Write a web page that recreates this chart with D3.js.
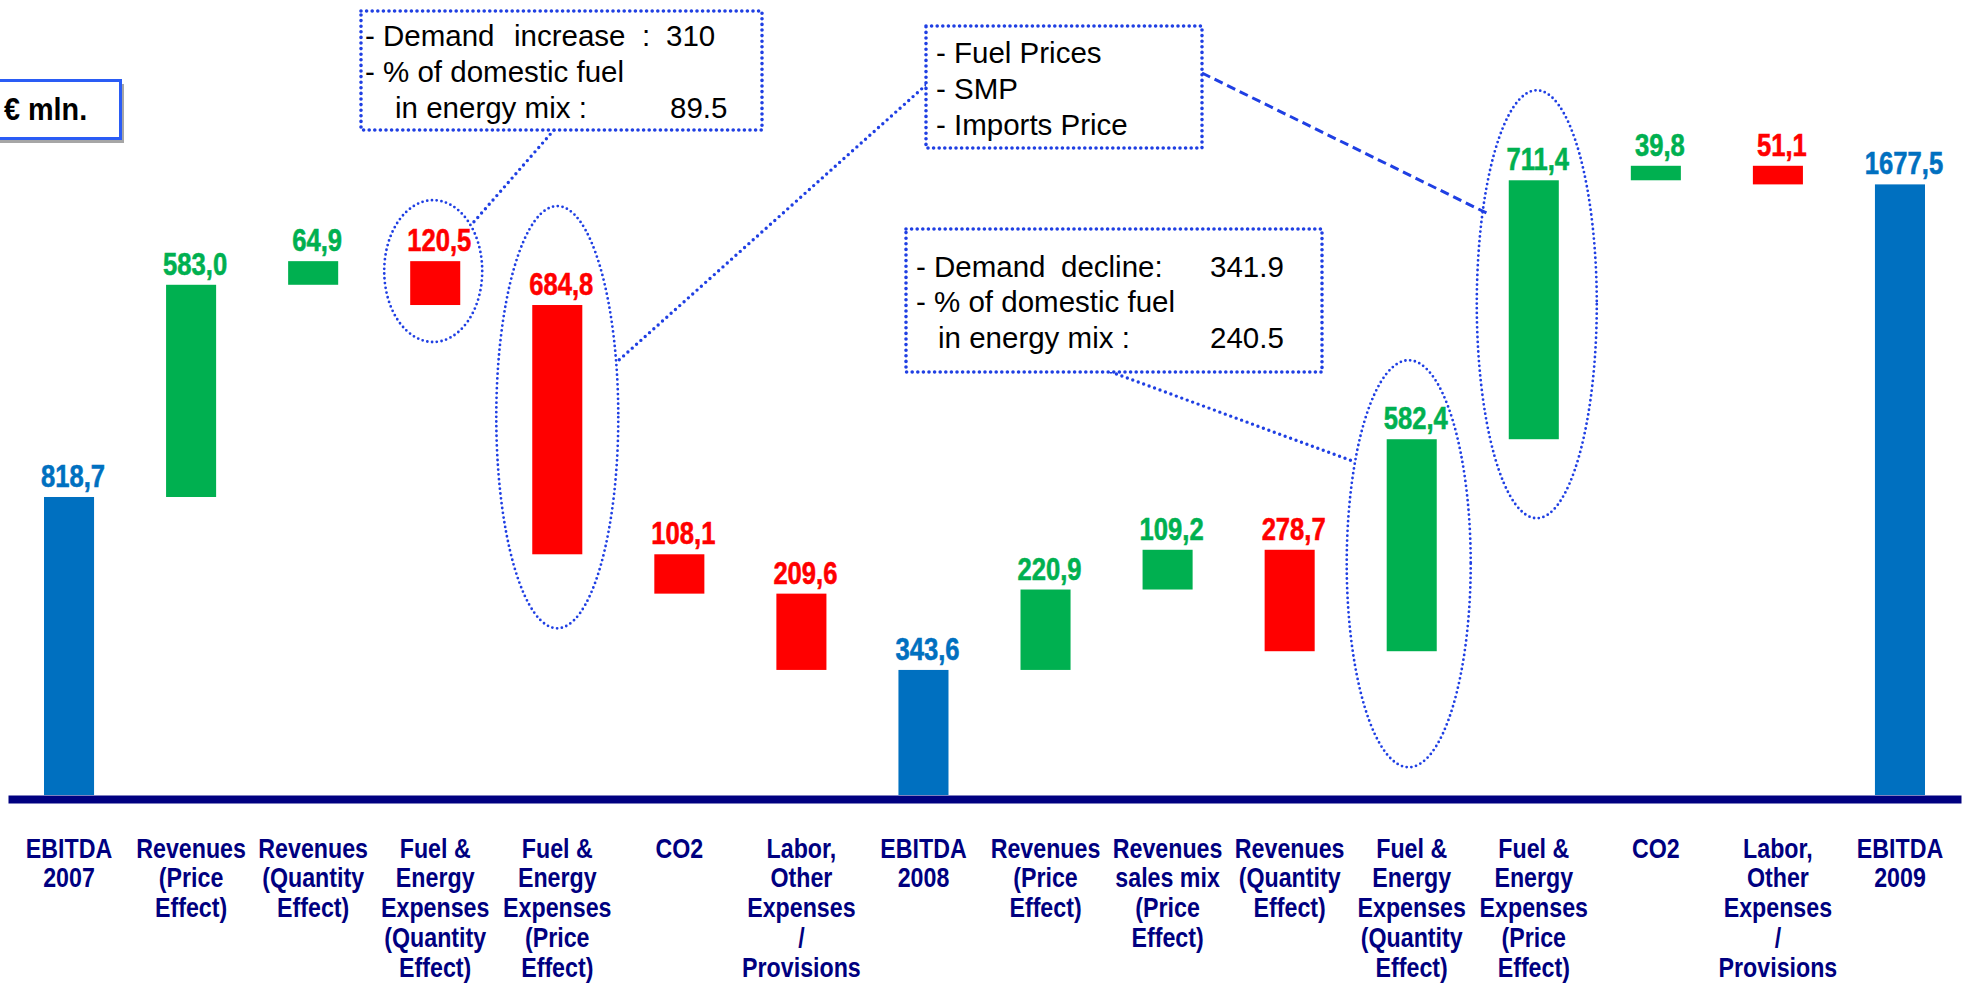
<!DOCTYPE html>
<html>
<head>
<meta charset="utf-8">
<script src="https://cdn.jsdelivr.net/npm/d3@7/dist/d3.min.js"></script>
<style>
  html, body { margin: 0; padding: 0; background: #ffffff; overflow: hidden; }
  svg { display: block; font-family: "Liberation Sans", Arial, sans-serif; }
</style>
</head>
<body>
<svg id="chart" width="1966" height="983"></svg>
<script>
// EBITDA bridge 2007 -> 2008 -> 2009 (EUR mln)
const categories = [
  ["EBITDA", "2007"],
  ["Revenues", "(Price", "Effect)"],
  ["Revenues", "(Quantity", "Effect)"],
  ["Fuel &", "Energy", "Expenses", "(Quantity", "Effect)"],
  ["Fuel &", "Energy", "Expenses", "(Price", "Effect)"],
  ["CO2"],
  ["Labor,", "Other", "Expenses", "/", "Provisions"],
  ["EBITDA", "2008"],
  ["Revenues", "(Price", "Effect)"],
  ["Revenues", "sales mix", "(Price", "Effect)"],
  ["Revenues", "(Quantity", "Effect)"],
  ["Fuel &", "Energy", "Expenses", "(Quantity", "Effect)"],
  ["Fuel &", "Energy", "Expenses", "(Price", "Effect)"],
  ["CO2"],
  ["Labor,", "Other", "Expenses", "/", "Provisions"],
  ["EBITDA", "2009"]
];
const values = [818.7, 583.0, 64.9, -120.5, -684.8, -108.1, -209.6, 343.6,
                220.9, 109.2, -278.7, 582.4, 711.4, 39.8, -51.1, 1677.5];
const totalIndex = [0, 7, 15];

const unitLabel = "€ mln.";

// callout notes
const noteBoxes = [
  { rect: [361, 11, 762, 130], lines: [
      { y: 45.7, parts: [["- Demand", 365], ["increase", 514], [":", 642], ["310", 666]] },
      { y: 81.7, parts: [["- % of domestic fuel", 365]] },
      { y: 118.3, parts: [["in energy mix :", 395], ["89.5", 670]] } ] },
  { rect: [926, 26, 1202, 148], lines: [
      { y: 63.3, parts: [["- Fuel Prices", 936]] },
      { y: 99, parts: [["- SMP", 936]] },
      { y: 134.5, parts: [["- Imports Price", 936]] } ] },
  { rect: [906, 229, 1322, 372], lines: [
      { y: 276.7, parts: [["- Demand", 916], ["decline:", 1061], ["341.9", 1210]] },
      { y: 312.3, parts: [["- % of domestic fuel", 916]] },
      { y: 348.3, parts: [["in energy mix :", 938], ["240.5", 1210]] } ] }
];
// ellipses around selected bars
const highlights = [
  { bar: 3,  dx: -2, padTop: 61, padBottom: 37,  rx: 49 },
  { bar: 4,  dx: 0,  padTop: 99, padBottom: 74,  rx: 61 },
  { bar: 11, dx: -3, padTop: 79, padBottom: 116, rx: 62 },
  { bar: 12, dx: 3,  padTop: 90, padBottom: 79,  rx: 60 }
];
// leader lines from notes to ellipses (angle on the ellipse, reach as share of radius)
const leaders = [
  { from: [554, 130], ellipse: 0, angle: -40, reach: 1.0, dashed: false },
  { from: [926, 85],  ellipse: 1, angle: -15, reach: 1.0, dashed: false },
  { from: [1202, 73], ellipse: 3, angle: -152.7, reach: 0.925, dashed: true },
  { from: [1111, 372], ellipse: 2, angle: -150, reach: 1.0, dashed: false }
];

const BLUE = "#0070C0", GREEN = "#00B050", RED = "#FF0000", NAVY = "#000080", NOTE = "#1f3fe3";

const svg = d3.select("#chart");
svg.append("rect").attr("width", 1966).attr("height", 983).attr("fill", "#fff");

const n = values.length;
const x = d3.scaleBand().domain(d3.range(n)).range([8, 1961]).paddingInner(0.59).paddingOuter(0.295);
const y = d3.scaleLinear().domain([0, 2000]).range([795, 67]);

// waterfall steps
let running = 0;
const steps = values.map((v, i) => {
  let start, end, kind;
  if (totalIndex.includes(i)) { start = 0; end = v; running = v; kind = "total"; }
  else { start = running; end = running + v; running = end; kind = v >= 0 ? "up" : "down"; }
  return { i, v, start, end, kind };
});
const colorOf = k => k === "total" ? BLUE : (k === "up" ? GREEN : RED);

const fmt = v => d3.format(".1f")(Math.abs(v)).replace(".", ",");

// bars
svg.append("g").selectAll("rect").data(steps).join("rect")
  .attr("x", d => x(d.i))
  .attr("width", x.bandwidth())
  .attr("y", d => y(Math.max(d.start, d.end)))
  .attr("height", d => Math.abs(y(d.start) - y(d.end)))
  .attr("fill", d => colorOf(d.kind));

// value labels
svg.append("g").selectAll("g").data(steps).join("g")
  .attr("transform", d => `translate(${x(d.i) + x.bandwidth() / 2 + 4},${y(Math.max(d.start, d.end)) - 10}) scale(0.8,1)`)
  .append("text")
  .attr("text-anchor", "middle")
  .attr("font-size", 32).attr("font-weight", "bold")
  .attr("fill", d => colorOf(d.kind))
  .attr("stroke", d => colorOf(d.kind)).attr("stroke-width", 0.6)
  .text(d => fmt(d.v));

// baseline axis
const axis = svg.append("g").attr("transform", "translate(0,799)")
  .call(d3.axisBottom(x).tickSize(0).tickSizeOuter(0).tickFormat(() => ""));
axis.select(".domain").attr("stroke", NAVY).attr("stroke-width", 8);

// category labels
const cat = svg.append("g").selectAll("g").data(categories).join("g")
  .attr("transform", (d, i) => `translate(${x(i) + x.bandwidth() / 2},857.5) scale(0.86,1)`)
  .append("text")
  .attr("text-anchor", "middle")
  .attr("font-size", 27).attr("font-weight", "bold").attr("fill", NAVY);
cat.selectAll("tspan").data(d => d).join("tspan")
  .attr("x", 0).attr("dy", (d, j) => j === 0 ? 0 : 30).text(d => d);

// unit box
const ub = svg.append("g");
ub.append("rect").attr("x", -26).attr("y", 84).attr("width", 150).attr("height", 59).attr("fill", "#a6a6a6");
ub.append("rect").attr("x", -30).attr("y", 80.5).attr("width", 150.5).attr("height", 58)
  .attr("fill", "#fff").attr("stroke", "#2a5cf5").attr("stroke-width", 3);
ub.append("g").attr("transform", "translate(4,120) scale(0.9,1)")
  .append("text").attr("font-size", 32).attr("font-weight", "bold").attr("fill", "#000").text(unitLabel);

// ellipses
const ell = highlights.map(h => {
  const s = steps[h.bar];
  const top = y(Math.max(s.start, s.end)) - h.padTop;
  const bot = y(Math.min(s.start, s.end)) + h.padBottom;
  return { cx: x(h.bar) + x.bandwidth() / 2 + h.dx, cy: (top + bot) / 2, rx: h.rx, ry: (bot - top) / 2 };
});
svg.append("g").selectAll("ellipse").data(ell).join("ellipse")
  .attr("cx", d => d.cx).attr("cy", d => d.cy).attr("rx", d => d.rx).attr("ry", d => d.ry)
  .attr("fill", "none").attr("stroke", NOTE).attr("stroke-width", 2.8)
  .attr("stroke-linecap", "round").attr("stroke-dasharray", "0 4.8");

// leader lines
const rad = a => a * Math.PI / 180;
svg.append("g").selectAll("line").data(leaders).join("line")
  .attr("x1", d => d.from[0]).attr("y1", d => d.from[1])
  .attr("x2", d => { const e = ell[d.ellipse]; return e.cx + d.reach * e.rx * Math.cos(rad(d.angle)); })
  .attr("y2", d => { const e = ell[d.ellipse]; return e.cy + d.reach * e.ry * Math.sin(rad(d.angle)); })
  .attr("fill", "none").attr("stroke", NOTE)
  .attr("stroke-width", d => d.dashed ? 3 : 3.4)
  .attr("stroke-linecap", d => d.dashed ? "butt" : "round")
  .attr("stroke-dasharray", d => d.dashed ? "9 5" : "0 5.8");

// note boxes
const nb = svg.append("g").selectAll("g").data(noteBoxes).join("g");
nb.append("rect")
  .attr("x", d => d.rect[0]).attr("y", d => d.rect[1])
  .attr("width", d => d.rect[2] - d.rect[0]).attr("height", d => d.rect[3] - d.rect[1])
  .attr("fill", "#fff").attr("stroke", NOTE).attr("stroke-width", 3.6)
  .attr("stroke-linecap", "round").attr("stroke-dasharray", "0 5.6");
nb.each(function (d) {
  const g = d3.select(this);
  d.lines.forEach(line => {
    line.parts.forEach(([t, px]) => {
      g.append("text").attr("x", px).attr("y", line.y)
        .attr("font-size", 29.5).attr("fill", "#000").text(t);
    });
  });
});
</script>
</body>
</html>
